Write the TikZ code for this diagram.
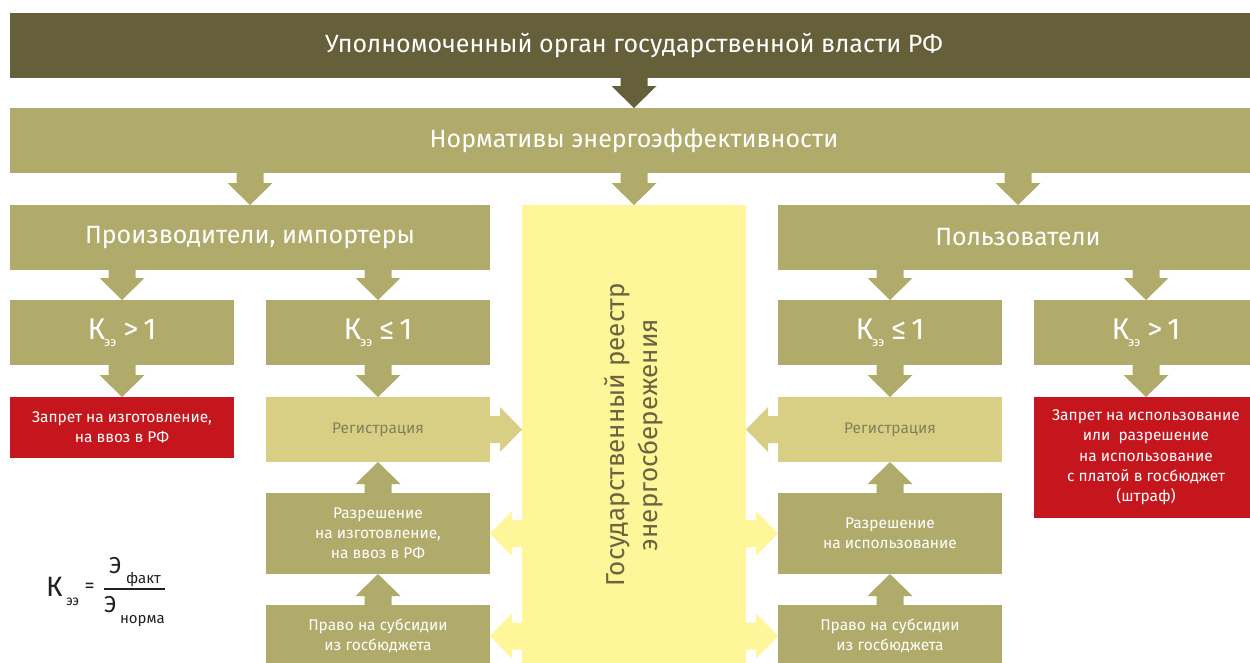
\documentclass[tikz,border=0pt]{standalone}
\usepackage{fontspec}
\setmainfont{Fira Sans}
\newfontfamily\regfont{Fira Sans}
\newcommand\lightfont{\normalfont}
\usetikzlibrary{calc}

\definecolor{darkolive}{HTML}{656039}
\definecolor{olive}{HTML}{B0AA6B}
\definecolor{lightolive}{HTML}{D8CF84}
\definecolor{registry}{HTML}{FFF599}
\definecolor{alarm}{HTML}{C4161C}
\definecolor{regtext}{HTML}{85805A}
\definecolor{registrytext}{HTML}{6A6440}
\definecolor{formulatext}{HTML}{231F20}

% block arrow dimensions
\def\stemw{13.5pt}
\def\headw{22.5pt}
\def\headl{22pt}

% vertical block arrow: colour, start point, tip point
\newcommand\vblock[3]{%
  \fill[#1] let \p1=(#2), \p2=(#3), \n1={sign(\y2-\y1)} in
    ({\x1-\stemw},{\y1}) -- ({\x1+\stemw},{\y1})
    -- ({\x1+\stemw},{\y2-(\n1)*\headl}) -- ({\x1+\headw},{\y2-(\n1)*\headl})
    -- ({\x1},{\y2}) -- ({\x1-\headw},{\y2-(\n1)*\headl})
    -- ({\x1-\stemw},{\y2-(\n1)*\headl}) -- cycle;}

% horizontal block arrow: colour, start point, tip point
\newcommand\hblock[3]{%
  \fill[#1] let \p1=(#2), \p2=(#3), \n1={sign(\x2-\x1)} in
    ({\x1},{\y1-\stemw}) -- ({\x1},{\y1+\stemw})
    -- ({\x2-(\n1)*\headl},{\y1+\stemw}) -- ({\x2-(\n1)*\headl},{\y1+\headw})
    -- ({\x2},{\y1}) -- ({\x2-(\n1)*\headl},{\y1-\headw})
    -- ({\x2-(\n1)*\headl},{\y1-\stemw}) -- cycle;}

% double-headed horizontal block arrow: colour, left tip, right tip
\newcommand\dblock[3]{%
  \fill[#1] let \p1=(#2), \p2=(#3) in
    ({\x1},{\y1}) -- ({\x1+\headl},{\y1+\headw}) -- ({\x1+\headl},{\y1+\stemw})
    -- ({\x2-\headl},{\y1+\stemw}) -- ({\x2-\headl},{\y1+\headw})
    -- ({\x2},{\y1}) -- ({\x2-\headl},{\y1-\headw}) -- ({\x2-\headl},{\y1-\stemw})
    -- ({\x1+\headl},{\y1-\stemw}) -- ({\x1+\headl},{\y1-\headw}) -- cycle;}

\newcommand\keff{К\kern-1pt\raisebox{-7pt}{\fontsize{13}{13}\selectfont ээ}}

\tikzset{
  box/.style={rectangle, inner sep=0pt, outer sep=0pt, anchor=north west,
    align=center, text=white},
  bigtext/.style={font=\fontsize{25}{28}\selectfont},
  smalltext/.style={font=\fontsize{15.5}{20.3}\selectfont},
  ktext/.style={font=\regfont\fontsize{30}{30}\selectfont},
  formula/.style={inner sep=0pt, outer sep=0pt, anchor=base west, text=formulatext},
}

\begin{document}
\begin{tikzpicture}[x=1pt,y=-1pt]
\useasboundingbox (0,0) rectangle (1250,662);
\clip (0,0) rectangle (1250,662);

% main bars
\node[box, bigtext, fill=darkolive, minimum width=1248pt, minimum height=65pt] (top) at (10,13)
  {Уполномоченный орган государственной власти РФ};
\node[box, bigtext, fill=olive, minimum width=1248pt, minimum height=65pt] (norm) at (10,108)
  {Нормативы энергоэффективности};
\node[box, bigtext, fill=olive, minimum width=480pt, minimum height=65pt] (prod) at (10,205)
  {Производители, импортеры};
\node[box, bigtext, fill=olive, minimum width=480pt, minimum height=65pt] (users) at (778,205)
  {Пользователи};

% register column
\node[box, fill=registry, minimum width=224pt, minimum height=462pt] (registry) at (522,205) {};

% efficiency coefficient boxes
\node[box, ktext, fill=olive, minimum width=224pt, minimum height=65pt] (k1) at (10,300)
  {\keff\hspace{7pt}{\lightfont>}\hspace{5pt}1};
\node[box, ktext, fill=olive, minimum width=224pt, minimum height=65pt] (k2) at (266,300)
  {\keff\hspace{7pt}{\lightfont≤}\hspace{5pt}1};
\node[box, ktext, fill=olive, minimum width=224pt, minimum height=65pt] (k3) at (778,300)
  {\keff\hspace{7pt}{\lightfont≤}\hspace{5pt}1};
\node[box, ktext, fill=olive, minimum width=224pt, minimum height=65pt] (k4) at (1034,300)
  {\keff\hspace{7pt}{\lightfont>}\hspace{5pt}1};

% outcomes
\node[box, smalltext, fill=alarm, minimum width=224pt, minimum height=61pt] (ban1) at (10,397)
  {Запрет на изготовление,\\на ввоз в РФ};
\node[box, smalltext, fill=alarm, minimum width=224pt, minimum height=121pt] (ban2) at (1034,397)
  {Запрет на использование\\или\ \ разрешение\\на использование\\с платой в госбюджет\\(штраф)};
\node[box, smalltext, fill=lightolive, text=regtext, minimum width=224pt, minimum height=65pt] (regL) at (266,397)
  {Регистрация};
\node[box, smalltext, fill=lightolive, text=regtext, minimum width=224pt, minimum height=65pt] (regR) at (778,397)
  {Регистрация};
\node[box, smalltext, fill=olive, minimum width=224pt, minimum height=81pt] (permL) at (266,493)
  {Разрешение\\на изготовление,\\на ввоз в РФ};
\node[box, smalltext, fill=olive, minimum width=224pt, minimum height=81pt] (permR) at (778,493)
  {Разрешение\\на использование};
\node[box, smalltext, fill=olive, minimum width=224pt, minimum height=62pt] (subL) at (266,605)
  {Право на субсидии\\из госбюджета};
\node[box, smalltext, fill=olive, minimum width=224pt, minimum height=62pt] (subR) at (778,605)
  {Право на субсидии\\из госбюджета};

% arrows from the top levels
\vblock{darkolive}{top.south -| registry.north}{norm.north -| registry.north}
\vblock{olive}{norm.south -| prod.north}{prod.north}
\vblock{olive}{norm.south -| registry.north}{registry.north}
\vblock{olive}{norm.south -| users.north}{users.north}

% arrows to the coefficient boxes
\vblock{olive}{prod.south -| k1.north}{k1.north}
\vblock{olive}{prod.south -| k2.north}{k2.north}
\vblock{olive}{users.south -| k3.north}{k3.north}
\vblock{olive}{users.south -| k4.north}{k4.north}

% arrows to the outcomes
\vblock{olive}{k1.south}{ban1.north}
\vblock{olive}{k2.south}{regL.north}
\vblock{olive}{k3.south}{regR.north}
\vblock{olive}{k4.south}{ban2.north}

% upward arrows towards registration
\vblock{olive}{permL.north}{regL.south}
\vblock{olive}{subL.north}{permL.south}
\vblock{olive}{permR.north}{regR.south}
\vblock{olive}{subR.north}{permR.south}

% registration into the register
\hblock{lightolive}{regL.east}{regL.east -| registry.west}
\hblock{lightolive}{regR.west}{regR.west -| registry.east}

% exchange between the register and permissions / subsidies
\dblock{registry}{permL.east}{permR.west}
\dblock{registry}{subL.east |- subL.center}{subR.west |- subL.center}

% register title, set over the column and its arrows
\node[rotate=90, align=center, text=registrytext, inner sep=0pt,
  font=\regfont\fontsize{26}{33}\selectfont] (registrylabel) at (registry.center |- 0,435)
  {Государственный реестр\\энергосбережения};

% coefficient formula
\node[formula, font=\regfont\fontsize{28}{28}\selectfont] (fk) at (46,596) {К};
\node[formula, font=\fontsize{14}{14}\selectfont] (fee) at (66,605) {ээ};
\node[formula, anchor=center, font=\fontsize{20}{20}\selectfont] (feq) at (89.5,587.5) {=};
\node[formula, font=\regfont\fontsize{23}{23}\selectfont] (fe1) at (109,573) {Э};
\node[formula, font=\fontsize{15}{15}\selectfont] (ffact) at (126,583) {факт};
\node[formula, font=\regfont\fontsize{23}{23}\selectfont] (fe2) at (104,612) {Э};
\node[formula, font=\fontsize{15}{15}\selectfont] (fnorm) at (120,623) {норма};
\draw[formulatext, line width=1.8pt] (104,589) -- (165,589);
\end{tikzpicture}
\end{document}
